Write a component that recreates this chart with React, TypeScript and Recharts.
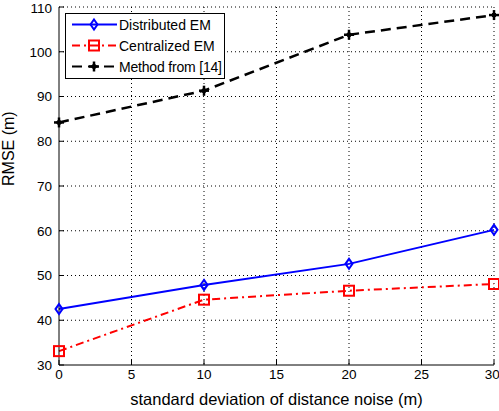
import { CartesianGrid, Line, LineChart, XAxis, YAxis } from 'recharts'

const noise = [0, 10, 20, 30]
const distributedEM = [42.5, 47.9, 52.6, 60.2]
const centralizedEM = [33.1, 44.6, 46.6, 48.1]
const method14 = [84.2, 91.3, 103.8, 108.2]

const xTicks = [0, 5, 10, 15, 20, 25, 30]
const yTicks = [30, 40, 50, 60, 70, 80, 90, 100, 110]

const data = noise.map((x, i) => ({
  x,
  dist: distributedEM[i],
  cent: centralizedEM[i],
  m14: method14[i],
}))

const font = 'Arial, "Liberation Sans", sans-serif'

const Diamond = ({ cx, cy }: any) => (
  <path d={`M${cx},${cy - 5} L${cx + 3.5},${cy} L${cx},${cy + 5} L${cx - 3.5},${cy} Z`} fill="none" stroke="#0000ff" strokeWidth={2} />
)

const Square = ({ cx, cy }: any) => (
  <rect x={cx - 5} y={cy - 5} width={10} height={10} fill="none" stroke="#ff0000" strokeWidth={2} />
)

const Star = ({ cx, cy }: any) => (
  <g stroke="#000" strokeWidth={2.5}>
    <line x1={cx - 5} y1={cy} x2={cx + 5} y2={cy} />
    <line x1={cx} y1={cy - 5} x2={cx} y2={cy + 5} />
    <path d={`M${cx},${cy - 3} L${cx + 3},${cy} L${cx},${cy + 3} L${cx - 3},${cy} Z`} fill="#000" strokeWidth={1} />
  </g>
)

const legendRows = [
  { name: 'Distributed EM', color: '#0000ff', dash: undefined, Mark: Diamond },
  { name: 'Centralized EM', color: '#ff0000', dash: '8 4 2 4', Mark: Square },
  { name: 'Method from [14]', color: '#000', dash: '10 6', Mark: Star },
]

function ChartLegend() {
  return (
    <svg width={160} height={66} style={{ position: 'absolute', left: 65, top: 13, overflow: 'visible' }}>
      <rect x={0.5} y={0.5} width={159} height={65} fill="#fff" stroke="#000" />
      {legendRows.map((r, i) => {
        const y = 11.5 + i * 21
        return (
          <g key={r.name}>
            <line x1={7} y1={y} x2={52} y2={y} stroke={r.color} strokeWidth={2} strokeDasharray={r.dash} />
            <r.Mark cx={29} cy={y} />
            <text x={54} y={y + 5} fontSize={14} fontFamily={font} fill="#000" textLength={r.name.length > 15 ? 103 : undefined}>
              {r.name}
            </text>
          </g>
        )
      })}
    </svg>
  )
}

export default function App() {
  return (
    <div style={{ position: 'absolute', left: 0, top: 0, width: 499, height: 411, background: '#fff' }}>
      <LineChart width={499} height={411} data={data} margin={{ top: 7, right: 5, bottom: 0, left: 0 }}>
        <CartesianGrid stroke="#000" strokeDasharray="1 3" horizontalValues={yTicks.slice(1)} verticalValues={xTicks.slice(1)} />
        <XAxis
          dataKey="x"
          type="number"
          domain={[0, 30]}
          ticks={xTicks}
          height={46}
          stroke="#000"
          tickSize={-5}
          tickMargin={9}
          tick={{ fill: '#000', fontSize: 13.5, fontFamily: font }}
          label={{ value: 'standard deviation of distance noise (m)', position: 'insideBottom', offset: 6, fill: '#000', fontSize: 16.5, fontFamily: font }}
        />
        <YAxis
          type="number"
          domain={[30, 110]}
          ticks={yTicks}
          width={59}
          stroke="#000"
          tickSize={-5}
          tickMargin={12}
          tick={{ fill: '#000', fontSize: 13.5, fontFamily: font }}
          label={{ value: 'RMSE (m)', angle: -90, position: 'insideLeft', offset: 8, fill: '#000', fontSize: 16, fontFamily: font }}
        />
        <Line dataKey="dist" stroke="#0000ff" strokeWidth={2} dot={<Diamond />} isAnimationActive={false} />
        <Line dataKey="cent" stroke="#ff0000" strokeWidth={2} strokeDasharray="8 4 2 4" dot={<Square />} isAnimationActive={false} />
        <Line dataKey="m14" stroke="#000" strokeWidth={2.5} strokeDasharray="10 6" dot={<Star />} isAnimationActive={false} />
      </LineChart>
      <ChartLegend />
    </div>
  )
}
